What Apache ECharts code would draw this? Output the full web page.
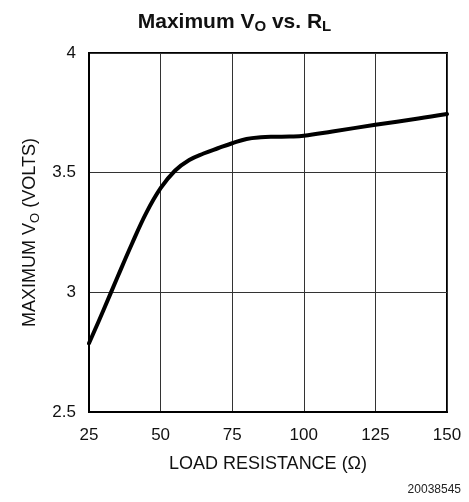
<!DOCTYPE html>
<html>
<head>
<meta charset="utf-8">
<script src="https://cdn.jsdelivr.net/npm/echarts@6/dist/echarts.min.js"></script>
<style>
  html, body { margin: 0; padding: 0; background: #fff; }
  #chart { width: 469px; height: 502px; }
</style>
</head>
<body>
<div id="chart"></div>
<script>
// Load resistance (ohms) and the maximum output voltage reached at each
const loadResistance = [25, 30, 35, 40, 45, 50, 55, 60, 65, 70, 75, 80, 85, 90, 95, 100, 110, 125, 140, 150];
const maxVout = [2.787, 2.924, 3.065, 3.203, 3.332, 3.435, 3.508, 3.553, 3.58, 3.602, 3.623, 3.641, 3.648, 3.650, 3.651, 3.654, 3.672, 3.70, 3.726, 3.745];

const xTicks = [25, 50, 75, 100, 125, 150];
const yTicks = [2.5, 3, 3.5, 4];

const FONT = 'Liberation Sans, Arial, Helvetica, sans-serif';

const chart = echarts.init(document.getElementById('chart'), null, { renderer: 'canvas' });

chart.setOption({
  animation: false,
  backgroundColor: '#fff',
  title: {
    text: '{a|Maximum V}{s|O}{a| vs. R}{s|L}',
    left: 'center',
    top: 5,
    textStyle: {
      rich: {
        a: { fontFamily: FONT, fontSize: 21, fontWeight: 'bold', color: '#111', lineHeight: 24 },
        s: { fontFamily: FONT, fontSize: 15, fontWeight: 'bold', color: '#111', lineHeight: 12, verticalAlign: 'bottom' }
      }
    }
  },
  grid: {
    left: 89, right: 22, top: 53, bottom: 90,
    show: true,
    borderColor: '#000',
    borderWidth: 2,
    backgroundColor: 'transparent'
  },
  xAxis: {
    type: 'value',
    min: xTicks[0],
    max: xTicks[xTicks.length - 1],
    interval: 25,
    name: 'LOAD RESISTANCE (Ω)',
    nameLocation: 'middle',
    nameGap: 43,
    nameTextStyle: { fontFamily: FONT, fontSize: 18, color: '#111' },
    axisLine: { show: true, lineStyle: { color: '#000', width: 2 } },
    axisTick: { show: false },
    axisLabel: { fontFamily: FONT, fontSize: 17, color: '#111', margin: 15 },
    splitLine: { show: true, lineStyle: { color: '#333', width: 1 } }
  },
  yAxis: {
    type: 'value',
    min: yTicks[0],
    max: yTicks[yTicks.length - 1],
    interval: 0.5,
    name: '{a|MAXIMUM V}{s|O}{a| (VOLTS)}',
    nameLocation: 'middle',
    nameRotate: 90,
    nameGap: 40,
    nameTextStyle: {
      rich: {
        a: { fontFamily: FONT, fontSize: 18, color: '#111', lineHeight: 22 },
        s: { fontFamily: FONT, fontSize: 13, color: '#111', lineHeight: 10, verticalAlign: 'bottom' }
      }
    },
    axisLine: { show: true, lineStyle: { color: '#000', width: 2 } },
    axisTick: { show: false },
    axisLabel: { fontFamily: FONT, fontSize: 17, color: '#111', margin: 13 },
    splitLine: { show: true, lineStyle: { color: '#333', width: 1 } }
  },
  graphic: [{
    type: 'text',
    right: 8,
    top: 484,
    style: { text: '20038545', fontFamily: FONT, fontSize: 12, fill: '#222' }
  }],
  series: [{
    type: 'line',
    data: loadResistance.map((r, i) => [r, maxVout[i]]),
    smooth: 0.4,
    showSymbol: false,
    lineStyle: { color: '#000', width: 4, cap: 'round', join: 'round' },
    clip: true
  }]
});
</script>
</body>
</html>
